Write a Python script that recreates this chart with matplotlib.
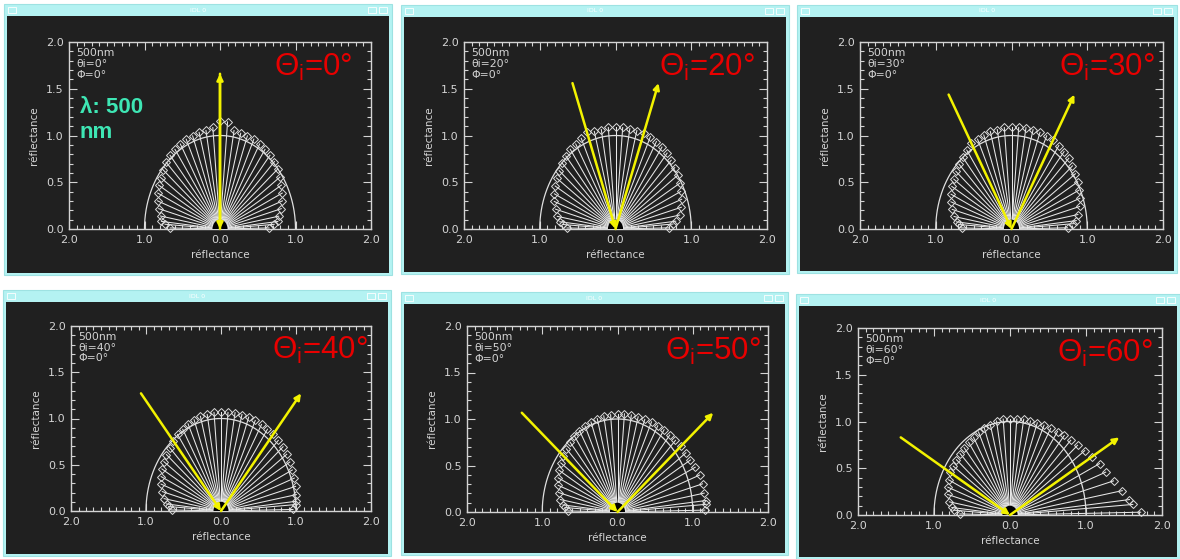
import numpy as np
import matplotlib.pyplot as plt
from matplotlib.patches import Rectangle, Circle
from matplotlib.ticker import MultipleLocator, FuncFormatter

plt.rcParams['mathtext.fontset'] = 'custom'
plt.rcParams['mathtext.rm'] = 'Liberation Sans'
plt.rcParams['mathtext.it'] = 'Liberation Sans:italic'

W, H = 1180, 559

# viewing angles (deg from vertical, + = forward side)
view_deg = [-89, -86, -84, -80, -75, -70, -65, -60, -55, -50, -45, -40, -35,
            -30, -25, -20, -15, -10, -5, 0, 5, 10, 15, 20, 25, 30, 35, 40, 45,
            50, 55, 60, 65, 70, 75, 80, 84, 86, 89]

incidence = [0, 20, 30, 40, 50, 60]

r_0 = [0.66, 0.73, 0.78, 0.80, 0.84, 0.88, 0.91, 0.94, 0.96, 0.99, 1.01, 1.03, 1.04,
       1.05, 1.06, 1.06, 1.07, 1.07, 1.09, 1.15, 1.15, 1.07, 1.06, 1.06, 1.06, 1.05, 1.04, 1.03, 1.02,
       1.00, 0.97, 0.94, 0.91, 0.88, 0.84, 0.79, 0.77, 0.72, 0.65]
r_20 = [0.64, 0.70, 0.74, 0.78, 0.82, 0.86, 0.89, 0.92, 0.95, 0.97, 1.00, 1.02, 1.04,
        1.05, 1.07, 1.10, 1.08, 1.08, 1.09, 1.09, 1.09, 1.09, 1.09, 1.09, 1.09, 1.08, 1.07, 1.06, 1.04,
        1.02, 1.00, 0.98, 0.95, 0.93, 0.90, 0.86, 0.80, 0.76, 0.71]
r_30 = [0.66, 0.70, 0.73, 0.77, 0.81, 0.85, 0.88, 0.91, 0.93, 0.96, 0.98, 1.00, 1.03,
        1.06, 1.06, 1.07, 1.08, 1.08, 1.09, 1.09, 1.09, 1.10, 1.10, 1.10, 1.10, 1.10, 1.09, 1.08, 1.07,
        1.05, 1.03, 1.01, 0.98, 0.96, 0.93, 0.89, 0.86, 0.82, 0.74]
r_40 = [0.66, 0.70, 0.73, 0.77, 0.81, 0.85, 0.88, 0.91, 0.93, 0.95, 0.97, 0.99, 1.01,
        1.02, 1.04, 1.05, 1.06, 1.06, 1.07, 1.07, 1.07, 1.08, 1.08, 1.08, 1.08, 1.08, 1.08, 1.08, 1.08,
        1.08, 1.07, 1.06, 1.05, 1.04, 1.03, 1.02, 1.01, 1.00, 0.96]
r_50 = [0.66, 0.70, 0.73, 0.77, 0.81, 0.84, 0.87, 0.90, 0.92, 0.94, 0.96, 0.98, 1.00,
        1.01, 1.02, 1.03, 1.04, 1.05, 1.05, 1.05, 1.06, 1.06, 1.06, 1.06, 1.07, 1.07, 1.08, 1.08, 1.09,
        1.10, 1.11, 1.12, 1.14, 1.16, 1.17, 1.17, 1.18, 1.18, 1.16]
r_60 = [0.66, 0.74, 0.77, 0.81, 0.85, 0.87, 0.89, 0.91, 0.91, 0.92, 0.93, 0.94, 0.95,
        0.96, 0.98, 0.99, 1.00, 1.02, 1.03, 1.03, 1.03, 1.04, 1.04, 1.05, 1.06, 1.07, 1.09, 1.11, 1.13,
        1.16, 1.20, 1.24, 1.30, 1.34, 1.41, 1.50, 1.58, 1.62, 1.72]
radii = [r_0, r_20, r_30, r_40, r_50, r_60]

# window frames (px: left, top, right, bottom) and plot boxes (left, top, right, bottom)
frames = [(4, 4, 392, 275), (401, 5, 789, 274), (797, 5, 1177, 273),
          (3, 290, 391, 556), (401, 292, 788, 555), (796, 294, 1180, 559)]
boxes = [(69, 42, 371, 229), (464, 42, 767, 229), (860, 42, 1163, 229),
         (71, 326, 371, 511), (467, 326, 768, 512), (858, 328, 1162, 515)]
label_x = [0.94, 0.96, 0.975, 0.99, 0.975, 0.97]

teal = '#b4f2f2'
dark = '#202020'
grey = '#d4d4d4'
yellow = '#f2f200'
arrow_len = 1.66

fig = plt.figure(figsize=(W / 100, H / 100), dpi=100)
fig.patch.set_facecolor('white')

bg = fig.add_axes([0, 0, 1, 1])
bg.set_xlim(0, W)
bg.set_ylim(H, 0)
bg.axis('off')

for (l, t, r, b) in frames:
    bg.add_patch(Rectangle((l, t), r - l, b - t, facecolor=teal, edgecolor='#9ee2e2', lw=0.8))
    bg.add_patch(Rectangle((l + 3, t + 12), r - l - 6, b - t - 14, facecolor=dark, edgecolor='none'))
    bg.add_patch(Rectangle((l + 4, t + 3), 8, 6, facecolor='none', edgecolor='white', lw=0.6))
    bg.add_patch(Rectangle((r - 24, t + 3), 8, 6, facecolor='none', edgecolor='white', lw=0.6))
    bg.add_patch(Rectangle((r - 13, t + 3), 8, 6, facecolor='none', edgecolor='white', lw=0.6))
    bg.text((l + r) / 2, t + 6, 'IDL 0', color='white', fontsize=4.5, ha='center', va='center')

th = np.radians(np.array(view_deg))
circ_t = np.linspace(0, np.pi, 200)

for k, (l, t, r, b) in enumerate(boxes):
    ax = fig.add_axes([l / W, 1 - b / H, (r - l) / W, (b - t) / H])
    ax.set_facecolor('none')
    ax.set_xlim(-2, 2)
    ax.set_ylim(0, 2)

    rad = np.array(radii[k])
    x = rad * np.sin(th)
    y = rad * np.cos(th)
    for xi, yi in zip(x, y):
        ax.plot([0, xi], [0, yi], color='#e8e8e8', lw=0.75, clip_on=False, zorder=2)
    ax.plot(x, y, 'D', ms=3.6, mfc='none', mec='#dcdcdc', mew=0.7, clip_on=False, zorder=3)
    ax.plot(np.cos(circ_t), np.sin(circ_t), color='#e0e0e0', lw=0.9, zorder=2)
    ax.add_patch(Circle((0, 0), 0.1, facecolor='black', edgecolor='none', zorder=4))

    a = np.radians(incidence[k])
    sx, sy = -arrow_len * np.sin(a), arrow_len * np.cos(a)
    ex, ey = arrow_len * np.sin(a), arrow_len * np.cos(a)
    ap = dict(arrowstyle='-|>', color=yellow, lw=1.8, mutation_scale=9, shrinkA=0, shrinkB=0)
    ax.annotate('', xy=(0, 0), xytext=(sx, sy), arrowprops=ap, zorder=5)
    ax.annotate('', xy=(ex, ey), xytext=(0, 0), arrowprops=ap, zorder=5)

    ax.text(0.025, 0.97, '500nm\nθi=%d°\nΦ=0°' % incidence[k], transform=ax.transAxes,
            ha='left', va='top', fontsize=7.8, color=grey, linespacing=1.12)
    ax.text(label_x[k], 1.64, r'$\Theta_{\mathrm{i}}$=%d°' % incidence[k],
            transform=ax.get_yaxis_transform(), ha='right', va='baseline',
            fontsize=22.5, color='#e80000', family='Liberation Sans')

    ax.xaxis.set_major_locator(MultipleLocator(1.0))
    ax.xaxis.set_minor_locator(MultipleLocator(0.1))
    ax.yaxis.set_major_locator(MultipleLocator(0.5))
    ax.yaxis.set_minor_locator(MultipleLocator(0.1))
    ax.xaxis.set_major_formatter(FuncFormatter(lambda v, p: '%.1f' % abs(v)))
    ax.yaxis.set_major_formatter(FuncFormatter(lambda v, p: '%.1f' % v))
    ax.tick_params(which='both', direction='in', top=True, right=True, colors=grey,
                   labelsize=8, width=0.8)
    ax.tick_params(which='major', length=6, pad=4)
    ax.tick_params(which='minor', length=3)
    for s in ax.spines.values():
        s.set_color(grey)
        s.set_linewidth(1.0)
    ax.set_xlabel('réflectance', color=grey, fontsize=7.5, labelpad=4)
    ax.set_ylabel('réflectance', color=grey, fontsize=7.5, labelpad=5)

    if k == 0:
        ax.text(0.035, 1.17, 'λ: 500\nnm', transform=ax.get_yaxis_transform(),
                ha='left', va='center', fontsize=16, fontweight='bold', color='#3ee6b4',
                family='Liberation Sans', linespacing=1.25)

fig.savefig('out.png', dpi=100)
